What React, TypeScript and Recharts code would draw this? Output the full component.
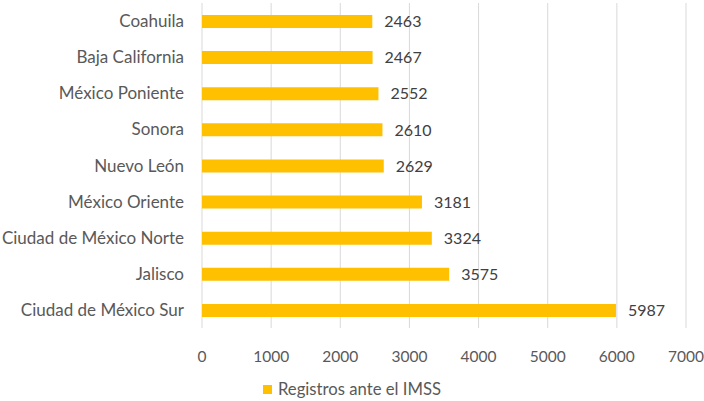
import React from "react";
import { Bar, BarChart, CartesianGrid, LabelList, Legend, XAxis, YAxis } from "recharts";

const delegaciones = [
  "Coahuila",
  "Baja California",
  "México Poniente",
  "Sonora",
  "Nuevo León",
  "México Oriente",
  "Ciudad de México Norte",
  "Jalisco",
  "Ciudad de México Sur",
];
const registros = [2463, 2467, 2552, 2610, 2629, 3181, 3324, 3575, 5987];
const xTicks = [0, 1000, 2000, 3000, 4000, 5000, 6000, 7000];
const seriesName = "Registros ante el IMSS";

const data = delegaciones.map((name, i) => ({ name, value: registros[i] }));

const FONT = "Lato, 'Open Sans', sans-serif";

function LegendBox() {
  return (
    <div
      style={{
        display: "flex",
        justifyContent: "center",
        alignItems: "center",
        height: 24,
        paddingLeft: 18,
        fontFamily: FONT,
        fontSize: 16.7,
        color: "#595959",
      }}
    >
      <span style={{ width: 9, height: 9, background: "#FFC000", marginRight: 6, display: "inline-block" }} />
      <span>{seriesName}</span>
    </div>
  );
}

export default function App() {
  return (
    <div style={{ position: "absolute", left: 0, top: 0, width: 704, height: 401, background: "#fff" }}>
      <BarChart
        width={704}
        height={401}
        data={data}
        layout="vertical"
        margin={{ top: 3, right: 18, left: 0, bottom: 0 }}
      >
        <CartesianGrid horizontal={false} stroke="#d9d9d9" />
        <XAxis
          type="number"
          domain={[0, 7000]}
          ticks={xTicks}
          axisLine={false}
          tickLine={false}
          tickSize={0}
          tickMargin={23}
          height={49}
          interval={0}
          tick={{ fill: "#595959", fontSize: 15.5, fontFamily: FONT }}
        />
        <YAxis
          type="category"
          dataKey="name"
          width={202}
          axisLine={false}
          tickLine={false}
          tickSize={0}
          tickMargin={18}
          interval={0}
          tick={{ fill: "#595959", fontSize: 17, fontFamily: FONT }}
        />
        <Legend verticalAlign="bottom" height={24} content={<LegendBox />} />
        <Bar dataKey="value" name={seriesName} fill="#FFC000" barSize={13} isAnimationActive={false}>
          <LabelList
            dataKey="value"
            position="right"
            offset={12}
            fill="#404040"
            fontSize={16}
            fontFamily={FONT}
          />
        </Bar>
      </BarChart>
    </div>
  );
}
